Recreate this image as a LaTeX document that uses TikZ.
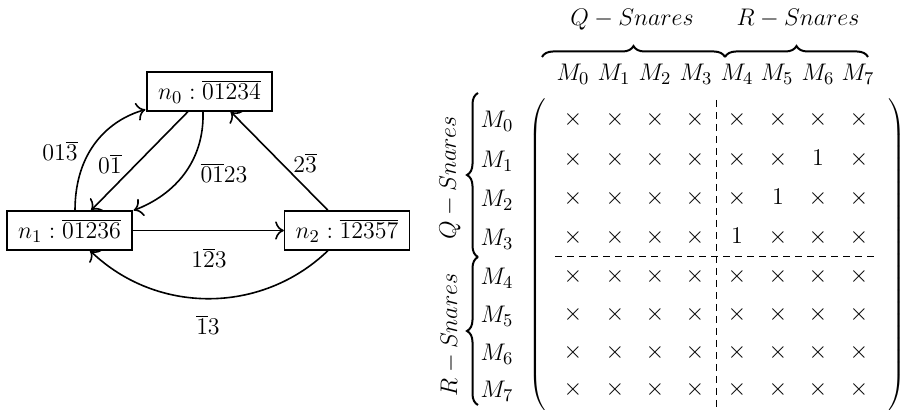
\documentclass[tikz,border=0pt]{standalone}
\usetikzlibrary{decorations.pathreplacing,calc,arrows.meta}
\newcommand\cellval[2]{\ifnum\numexpr#1+#2\relax=7 \ifnum#1>0 \ifnum#1<4 1\else\times\fi\else\times\fi\else\times\fi}
\begin{document}
\begin{tikzpicture}[x=0.5pt,y=-0.5pt,
  state/.style={draw,line width=0.6pt,inner sep=0pt,minimum width=62.5pt,minimum height=19.5pt,font=\fontsize{12.8}{15}\selectfont},
  edge/.style={-{To[scale=1.3]},line width=0.8pt},
  elab/.style={inner sep=1pt,font=\fontsize{12.5}{15}\selectfont},
  mfont/.style={inner sep=0pt,font=\fontsize{12.5}{15}\selectfont},
  bracestyle/.style={decorate,decoration={brace,amplitude=5.5pt},line width=1pt},
  sep/.style={dash pattern=on 3.5pt off 2.5pt,line width=0.4pt}]
\useasboundingbox (0,0) rectangle (902,410);
% left graph
\node[state] (n0) at (209.5,91.5) {$n_0:\overline{01234}$};
\node[state] (n1) at (69.5,230.5) {$n_1:\overline{01236}$};
\node[state] (n2) at (347,230.5) {$n_2:\overline{12357}$};
\draw[edge] ($(n1.north)+(5.5,0)$) .. controls ($(n1.north)+(5.5,-60)$) and ($(n0.south west)+(-37,8)$) .. ($(n0.south west)+(-1,-2)$);
\draw[edge] ($(n0.south)+(-21.5,0)$) -- ($(n1.north)+(21.5,0)$);
\draw[edge] ($(n0.south)+(-6.5,0)$) .. controls ($(n0.south)+(-5,49)$) and ($(n1.north east)+(43,-16)$) .. ($(n1.north east)+(1,0)$);
\draw[edge] ($(n2.north)+(-19,0)$) -- ($(n0.south east)+(-42,0)$);
\draw[edge] (n1.east) -- (n2.west);
\draw[edge] ($(n2.south)+(-19,0)$) .. controls ($(n2.south)+(-85.5,64)$) and ($(n1.south)+(87,64)$) .. ($(n1.south)+(20.5,0)$);
\node[elab] (l1) at (60,151) {$01\overline{3}$};
\node[elab] (l2) at (110,164) {$0\overline{1}$};
\node[elab] (l3) at (224,173) {$\overline{01}23$};
\node[elab] (l4) at (305,163) {$2\overline{3}$};
\node[elab] (l5) at (209,258) {$1\overline{2}3$};
\node[elab] (l6) at (208,325) {$\overline{1}3$};
% matrix
\node[mfont,anchor=base] (tq) at (632,26) {$Q-Snares$};
\node[mfont,anchor=base] (tr) at (798,26) {$R-Snares$};
\draw[bracestyle] (542,57) -- (725,57);
\draw[bracestyle] (725,57) -- (868,57);
\draw[bracestyle] (478,257) -- (478,93);
\draw[bracestyle] (478,405) -- (478,257);
\node[mfont,rotate=90] (sq) at (450,178) {$Q-Snares$};
\node[mfont,rotate=90] (sr) at (450,335) {$R-Snares$};
\foreach \c/\x in {0/573,1/614,2/655,3/696,4/737,5/777,6/818,7/858}{
  \node[mfont,anchor=base] (h\c) at (\x,81) {$M_\c$};
}
\foreach \r/\y in {0/119,1/159,2/198,3/237,4/276,5/314,6/352,7/389}{
  \node[mfont,anchor=base] (r\r) at (497,\y+8.5) {$M_\r$};
  \foreach \c/\x in {0/573,1/615,2/655,3/695,4/737,5/778,6/818,7/859}{
    \node[mfont,anchor=base] (e\r\c) at (\x,\y+6.2) {$\cellval{\r}{\c}$};
  }
}
\draw[sep] (716,100) -- (716,408);
\draw[sep] (555,256) -- (878,256);
\node[mfont] (lp) at (538,255) {$\left(\vrule height 75pt depth 75pt width 0pt\right.$};
\node[mfont] (rp) at (896,255) {$\left.\vrule height 75pt depth 75pt width 0pt\right)$};
\end{tikzpicture}
\end{document}
